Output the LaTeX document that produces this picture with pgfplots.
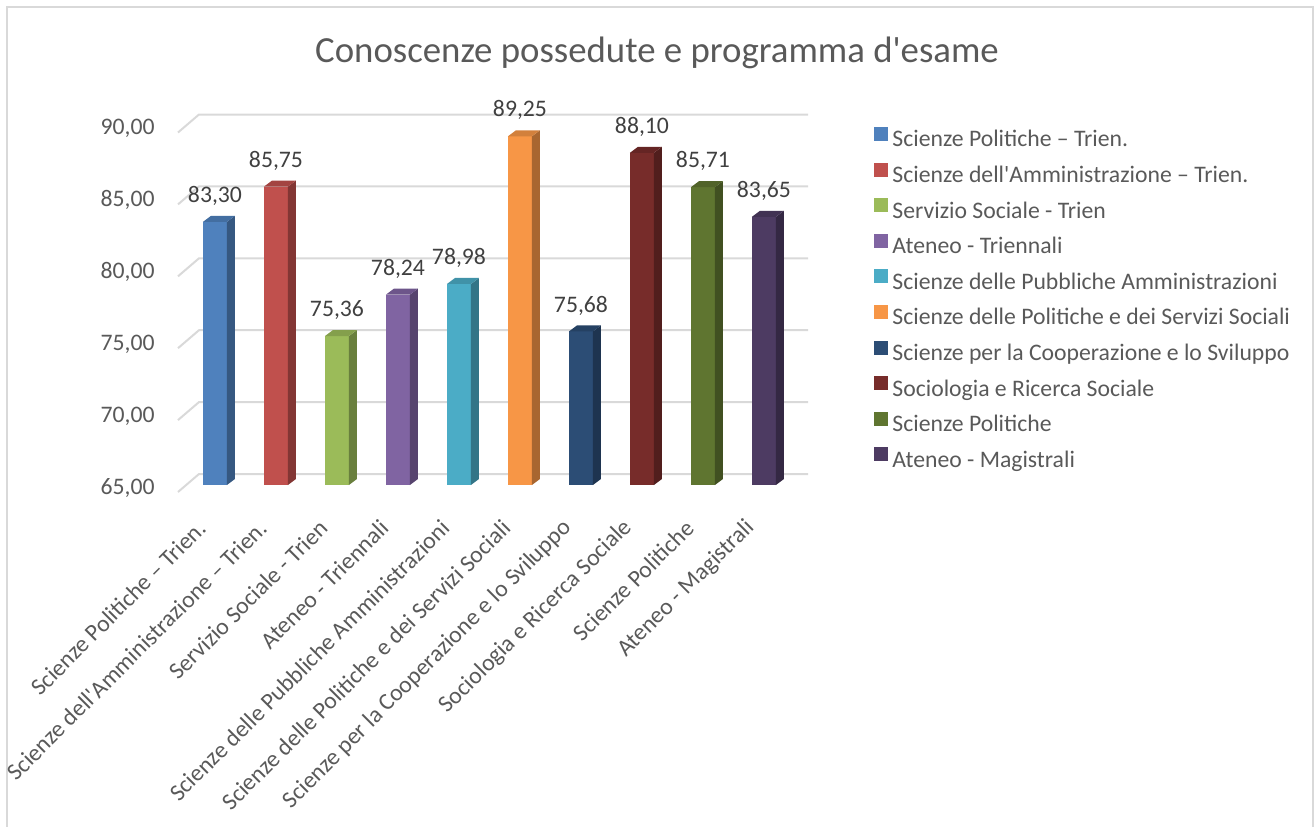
\documentclass[border=0pt]{standalone}
\usepackage{pgfplots}
\pgfplotsset{compat=1.18}
\usepackage{fontspec}
\setmainfont{Carlito}
\definecolor{txt}{HTML}{595959}
\definecolor{lbl}{HTML}{404040}
\definecolor{gridc}{HTML}{D9D9D9}
\definecolor{c1}{HTML}{4F81BD}
\definecolor{c2}{HTML}{C0504D}
\definecolor{c3}{HTML}{9BBB59}
\definecolor{c4}{HTML}{8064A2}
\definecolor{c5}{HTML}{4BACC6}
\definecolor{c6}{HTML}{F79646}
\definecolor{c7}{HTML}{2C4D75}
\definecolor{c8}{HTML}{772C2A}
\definecolor{c9}{HTML}{5F7530}
\definecolor{c10}{HTML}{4D3B62}
\pgfdeclareplotmark{bar3d}{%
  \pgfmathsetmacro\barH{(\ry-65)*7.19}%
  \pgfsetfillcolor{\barcol}%
  \pgfpathrectanglecorners{\pgfpoint{-6pt}{0pt}}{\pgfpoint{6pt}{-\barH pt}}%
  \pgfusepath{fill}%
  \pgfsetfillcolor{\barcol!68!black}%
  \pgfpathmoveto{\pgfpoint{6pt}{0pt}}%
  \pgfpathlineto{\pgfpoint{10pt}{3pt}}%
  \pgfpathlineto{\pgfpoint{10pt}{3pt-\barH pt}}%
  \pgfpathlineto{\pgfpoint{6pt}{-\barH pt}}%
  \pgfpathclose
  \pgfusepath{fill}%
  \pgfsetfillcolor{\barcol!85!black}%
  \pgfpathmoveto{\pgfpoint{-6pt}{0pt}}%
  \pgfpathlineto{\pgfpoint{-2pt}{3pt}}%
  \pgfpathlineto{\pgfpoint{10pt}{3pt}}%
  \pgfpathlineto{\pgfpoint{6pt}{0pt}}%
  \pgfpathclose
  \pgfusepath{fill}%
}
\newcommand\fs{\fontsize{11.85}{14}\selectfont}
\pgfplotsset{
  bar3d/.style={
    forget plot, only marks, mark=bar3d,
    visualization depends on={rawy \as \ry},
    visualization depends on={value #1 \as \barcol},
    nodes near coords={\pgfmathprintnumber[fixed,fixed zerofill,precision=2,use comma,assume math mode=true]{\pgfplotspointmeta}},
    every node near coord/.append style={anchor=center, yshift=13pt, font=\fs, text=lbl, inner sep=0pt},
  }
}
\begin{document}
\begin{tikzpicture}[x=1pt,y=1pt]
\path (0,0) rectangle (657,-413.5);
\draw[gridc, line width=1pt] (3.5,-413.5) -- (3.5,-3.5) -- (656.35,-3.5) -- (656.35,-413.5);
\node[font=\fontsize{18.4}{22}\selectfont, text=txt] at (328.5,-26.5) {Conoscenze possedute e programma d\textquotesingle esame};
\begin{axis}[
  at={(93pt,-242.5pt)}, anchor=south west,
  scale only axis, x=30.5pt, y=7.19pt,
  xmin=-0.475, xmax=9.51, ymin=65, ymax=90,
  clip=false,
  axis line style={draw=none},
  major tick length=0pt,
  ytick={65,70,75,80,85,90},
  yticklabel style={font=\fs, text=txt, inner sep=0pt, anchor=east, xshift=-15.5pt, yshift=-1.5pt,
     /pgf/number format/.cd, fixed, fixed zerofill, precision=2, use comma, assume math mode=true},
  xtick={0,1,2,3,4,5,6,7,8,9},
  xticklabels={Scienze Politiche – Trien.,
    Scienze dell\textquotesingle Amministrazione – Trien.,
    Servizio Sociale - Trien,
    Ateneo - Triennali,
    Scienze delle Pubbliche Amministrazioni,
    Scienze delle Politiche e dei Servizi Sociali,
    Scienze per la Cooperazione e lo Sviluppo,
    Sociologia e Ricerca Sociale,
    Scienze Politiche,
    Ateneo - Magistrali},
  xticklabel style={font=\fs, text=txt, inner sep=0pt,
    shift={(-6.5pt,-19.5pt)}, rotate=45, anchor=east},
  legend cell align=left,
  legend style={at={(1.1297,0.9972)}, anchor=north west, draw=none, fill=none, inner sep=0pt,
    font=\fs, text=txt,
    nodes={inner sep=0pt, text height=9pt, text depth=3pt},
    row sep=4.8pt, /tikz/every odd column/.append style={column sep=2pt}},
  legend image code/.code={\fill[#1, draw=none] (0pt,0pt) rectangle (7pt,7pt);},
]
\pgfplotsinvokeforeach{65,70,75,80,85,90}{
  \draw[gridc, line width=1pt] ([shift={(-4pt,-3.5pt)}]axis cs:-0.475,#1) -- ([shift={(6.5pt,5.5pt)}]axis cs:-0.475,#1) -- ([shift={(6.5pt,5.5pt)}]axis cs:9.51,#1);
}
\addlegendimage{fill=c1}\addlegendentry{Scienze Politiche – Trien.}
\addlegendimage{fill=c2}\addlegendentry{Scienze dell\textquotesingle Amministrazione – Trien.}
\addlegendimage{fill=c3}\addlegendentry{Servizio Sociale - Trien}
\addlegendimage{fill=c4}\addlegendentry{Ateneo - Triennali}
\addlegendimage{fill=c5}\addlegendentry{Scienze delle Pubbliche Amministrazioni}
\addlegendimage{fill=c6}\addlegendentry{Scienze delle Politiche e dei Servizi Sociali}
\addlegendimage{fill=c7}\addlegendentry{Scienze per la Cooperazione e lo Sviluppo}
\addlegendimage{fill=c8}\addlegendentry{Sociologia e Ricerca Sociale}
\addlegendimage{fill=c9}\addlegendentry{Scienze Politiche}
\addlegendimage{fill=c10}\addlegendentry{Ateneo - Magistrali}
\addplot[bar3d=c1] coordinates {(0,83.30)};
\addplot[bar3d=c2] coordinates {(1,85.75)};
\addplot[bar3d=c3] coordinates {(2,75.36)};
\addplot[bar3d=c4] coordinates {(3,78.24)};
\addplot[bar3d=c5] coordinates {(4,78.98)};
\addplot[bar3d=c6] coordinates {(5,89.25)};
\addplot[bar3d=c7] coordinates {(6,75.68)};
\addplot[bar3d=c8] coordinates {(7,88.10)};
\addplot[bar3d=c9] coordinates {(8,85.71)};
\addplot[bar3d=c10] coordinates {(9,83.65)};
\end{axis}
\end{tikzpicture}
\end{document}
